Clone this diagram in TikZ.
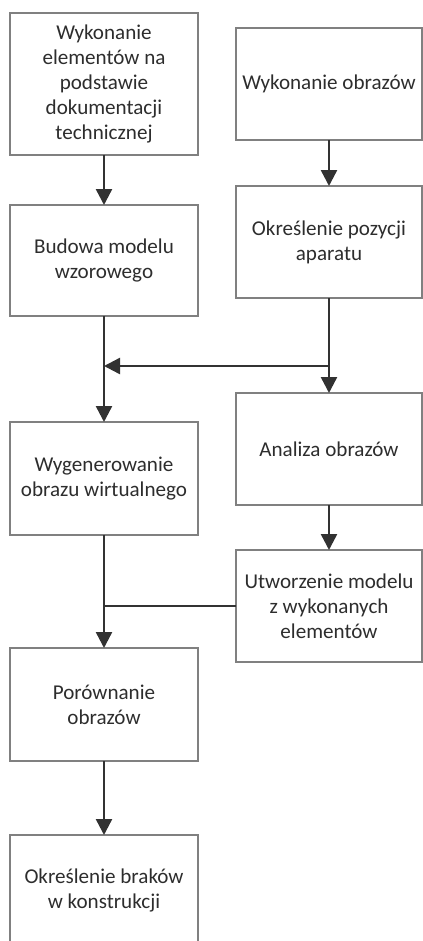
\documentclass[tikz,border=0pt]{standalone}
\usepackage{fontspec}
\setmainfont{Carlito}
\usepackage{tikz}
\usetikzlibrary{arrows.meta, positioning}
\definecolor{boxgray}{RGB}{128, 128, 128}
\definecolor{linedark}{RGB}{50, 50, 50}
\definecolor{textdark}{RGB}{45, 45, 45}

\begin{document}
\begin{tikzpicture}[
    leftbox/.style={rectangle, draw=boxgray, line width=0.8pt, outer sep=0pt,
                    minimum width=3.76cm, minimum height=2.24cm, align=center,
                    text=textdark, font=\fontsize{12}{14.2}\selectfont},
    rightbox/.style={leftbox, minimum width=3.72cm},
    arr/.style={-{Triangle[length=0.32cm, width=0.32cm]}, line width=1.4pt, linedark},
    link/.style={line width=1.4pt, linedark},
]
\useasboundingbox (0,0) rectangle (8.46,-18.82);
\clip (0,0) rectangle (8.46,-18.82);

% left column
\node[leftbox, minimum height=2.84cm] (elem) at (2.08,-1.68)
    {Wykonanie\\elementów na\\podstawie\\dokumentacji\\technicznej};
\node[leftbox, minimum height=2.22cm, below=1.0cm of elem] (budowa) {Budowa modelu\\wzorowego};
\node[leftbox, minimum height=2.26cm, below=2.12cm of budowa] (wirt) {Wygenerowanie\\obrazu wirtualnego};
\node[leftbox, minimum height=2.26cm, below=2.26cm of wirt] (porown) {Porównanie\\obrazów};
\node[leftbox, minimum height=2.2cm, below=1.48cm of porown] (braki) {Określenie braków\\w konstrukcji};

% right column
\node[rightbox] (obrazy) at (6.58,-1.68) {Wykonanie obrazów};
\node[rightbox, below=0.92cm of obrazy] (pozycja) {Określenie pozycji\\aparatu};
\node[rightbox, below=1.9cm of pozycja] (analiza) {Analiza obrazów};
\node[rightbox, below=0.9cm of analiza] (model) {Utworzenie modelu\\z wykonanych\\elementów};

\coordinate[below=1.36cm of pozycja.south] (split);

\draw[arr] (elem) -- (budowa);
\draw[arr] (budowa) -- (wirt);
\draw[arr] (obrazy) -- (pozycja);
\draw[arr] (pozycja) -- (analiza);
\draw[arr] (split) -- (split -| budowa.south);
\draw[arr] (analiza) -- (model);
\draw[link] (model.west) -- (model.west -| wirt.south);
\draw[arr] (wirt) -- (porown);
\draw[arr] (porown) -- (braki);

\end{tikzpicture}
\end{document}
